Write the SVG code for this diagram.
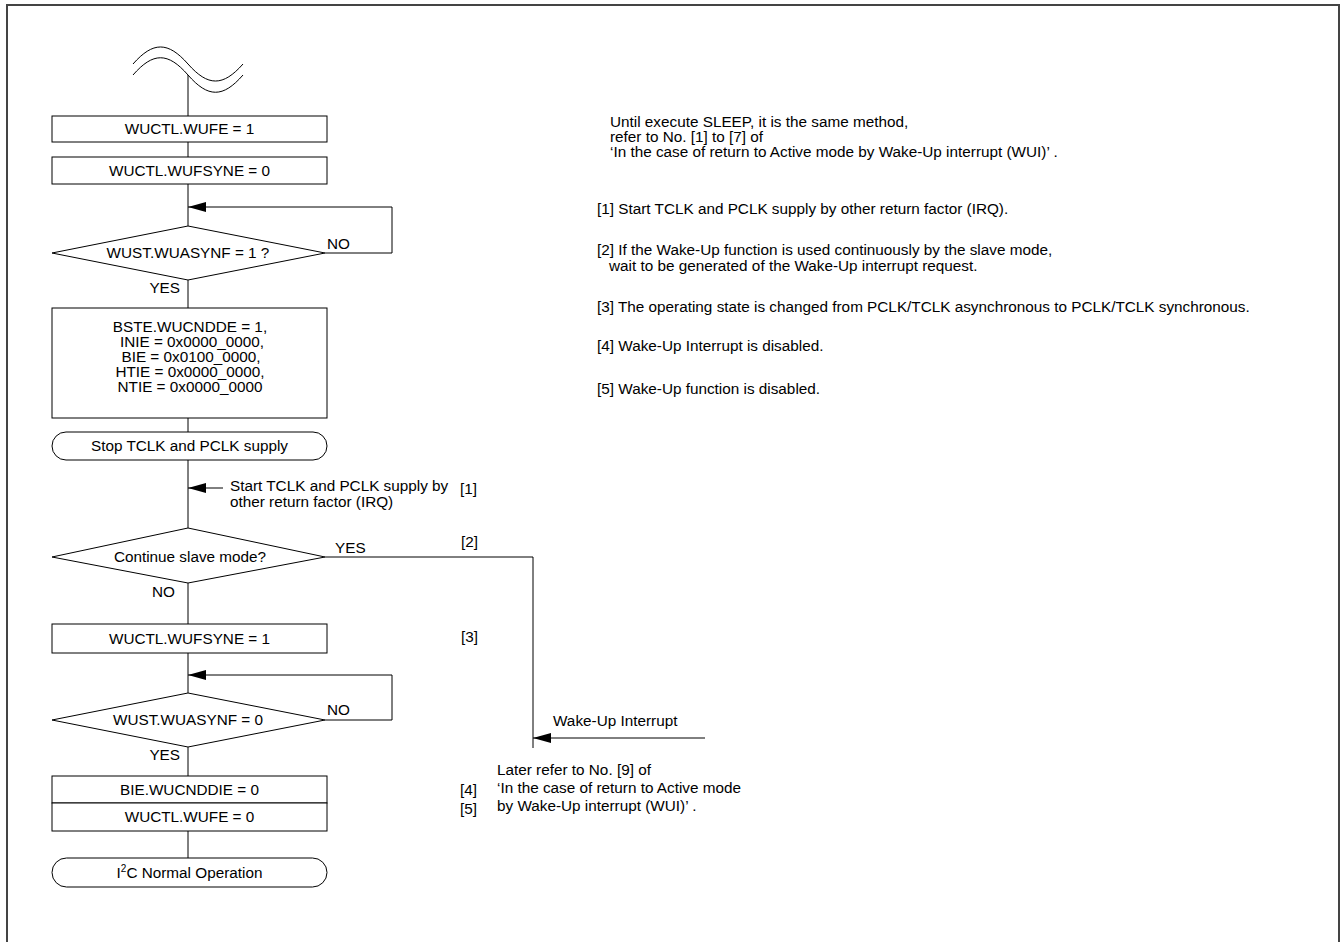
<svg xmlns="http://www.w3.org/2000/svg" width="1343" height="942" viewBox="0 0 1343 942">
<style>
text{font-family:"Liberation Sans",Arial,sans-serif;font-size:15.3px;fill:#000}
.c{text-anchor:middle}
.e{text-anchor:end}
.box{fill:#fff;stroke:#000;stroke-width:1}
.ln{fill:none;stroke:#000;stroke-width:1}
</style>
<defs>
<marker id="ah" viewBox="0 0 18 10" refX="18" refY="5" markerWidth="18" markerHeight="10" markerUnits="userSpaceOnUse" orient="auto">
<path d="M0,0 L18,5 L0,10 Z" fill="#000"/>
</marker>
</defs>
<rect x="7" y="5" width="1332" height="960" fill="none" stroke="#444" stroke-width="2"/>
<g id="break">
<path class="ln" d="M133,64 C153,41.3 168,41.3 188,64 C208,86.7 223,86.7 243,64"/>
<path class="ln" d="M133,75 C153,52 168,52 188,75 C208,98 223,98 243,75"/>
</g>
<g id="connectors">
<path class="ln" d="M188,75 V116 M188,142 V157 M188,184 V226 M188,280 V308 M188,418 V432 M188,460 V528 M188,583 V624 M188,653 V693 M188,747 V776 M188,831 V858"/>
<path class="ln" d="M325,253 H392 V207 H188" marker-end="url(#ah)"/>
<path class="ln" d="M325,720 H392 V675 H188" marker-end="url(#ah)"/>
<path class="ln" d="M223,488 H188" marker-end="url(#ah)"/>
<path class="ln" d="M325,557 H533 V748"/>
<path class="ln" d="M705,738 H533" marker-end="url(#ah)"/>
</g>
<g id="n1"><rect class="box" x="52" y="116" width="275" height="26"/><text class="c" x="189.5" y="134">WUCTL.WUFE = 1</text></g>
<g id="n2"><rect class="box" x="52" y="157" width="275" height="27"/><text class="c" x="189.5" y="176">WUCTL.WUFSYNE = 0</text></g>
<g id="d1"><path class="box" d="M188,226 L325,253 L188,280 L52,253 Z"/><text class="c" x="188" y="258">WUST.WUASYNF = 1 ?</text>
<text x="327" y="249">NO</text><text class="e" x="180" y="293">YES</text></g>
<g id="n3"><rect class="box" x="52" y="308" width="275" height="110"/>
<text class="c" x="190" y="332">BSTE.WUCNDDE = 1,</text>
<text class="c" x="192" y="347">INIE = 0x0000_0000,</text>
<text class="c" x="191" y="362">BIE = 0x0100_0000,</text>
<text class="c" x="190" y="377">HTIE = 0x0000_0000,</text>
<text class="c" x="190" y="392">NTIE = 0x0000_0000</text></g>
<g id="t1"><rect class="box" x="52" y="432" width="275" height="28" rx="14" ry="14"/><text class="c" x="189.5" y="451">Stop TCLK and PCLK supply</text></g>
<g id="l1"><text x="230" y="491">Start TCLK and PCLK supply by</text><text x="230" y="507">other return factor (IRQ)</text><text x="460" y="494">[1]</text></g>
<g id="d2"><path class="box" d="M188,528 L325,557 L188,583 L52,557 Z"/><text class="c" x="190" y="562">Continue slave mode?</text>
<text x="335" y="553">YES</text><text x="461" y="547">[2]</text><text class="e" x="175" y="597">NO</text></g>
<g id="n4"><rect class="box" x="52" y="624" width="275" height="29"/><text class="c" x="189.5" y="644">WUCTL.WUFSYNE = 1</text><text x="461" y="642">[3]</text></g>
<g id="d3"><path class="box" d="M188,693 L325,720 L188,747 L52,720 Z"/><text class="c" x="188" y="725">WUST.WUASYNF = 0</text>
<text x="327" y="715">NO</text><text class="e" x="180" y="760">YES</text></g>
<g id="n5"><rect class="box" x="52" y="776" width="275" height="27"/><text class="c" x="189.5" y="795">BIE.WUCNDDIE = 0</text><text x="460" y="795">[4]</text></g>
<g id="n6"><rect class="box" x="52" y="803" width="275" height="28"/><text class="c" x="189.5" y="822">WUCTL.WUFE = 0</text><text x="460" y="814">[5]</text></g>
<g id="t2"><rect class="box" x="52" y="858" width="275" height="29" rx="14.5" ry="14.5"/><text class="c" x="189.5" y="878">I<tspan font-size="10" dy="-6">2</tspan><tspan dy="6">C Normal Operation</tspan></text></g>
<g id="wake"><text x="553" y="726">Wake-Up Interrupt</text></g>
<g id="later">
<text x="497" y="775">Later refer to No. [9] of</text>
<text x="497" y="793">‘In the case of return to Active mode</text>
<text x="497" y="811">by Wake-Up interrupt (WUI)’ .</text>
</g>
<g id="notes">
<text x="610" y="127">Until execute SLEEP, it is the same method,</text>
<text x="610" y="142">refer to No. [1] to [7] of</text>
<text x="610" y="157">‘In the case of return to Active mode by Wake-Up interrupt (WUI)’ .</text>
<text x="597" y="214">[1] Start TCLK and PCLK supply by other return factor (IRQ).</text>
<text x="597" y="255">[2] If the Wake-Up function is used continuously by the slave mode,</text>
<text x="609" y="271">wait to be generated of the Wake-Up interrupt request.</text>
<text x="597" y="312">[3] The operating state is changed from PCLK/TCLK asynchronous to PCLK/TCLK synchronous.</text>
<text x="597" y="351">[4] Wake-Up Interrupt is disabled.</text>
<text x="597" y="394">[5] Wake-Up function is disabled.</text>
</g>
</svg>
